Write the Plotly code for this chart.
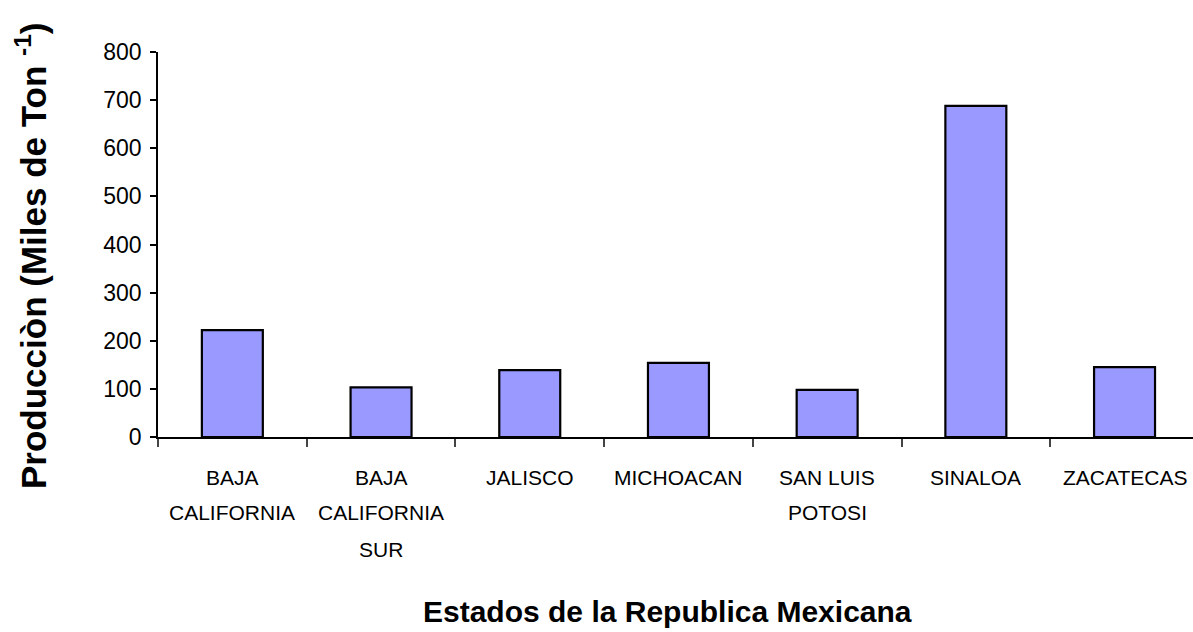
import plotly.graph_objects as go

categories = ["BAJA CALIFORNIA", "BAJA CALIFORNIA SUR", "JALISCO", "MICHOACAN",
              "SAN LUIS POTOSI", "SINALOA", "ZACATECAS"]
label_lines = [["BAJA", "CALIFORNIA"], ["BAJA", "CALIFORNIA", "SUR"], ["JALISCO"],
               ["MICHOACAN"], ["SAN LUIS", "POTOSI"], ["SINALOA"], ["ZACATECAS"]]
production = [222, 103, 139, 154, 98, 688, 145]
y_ticks = [0, 100, 200, 300, 400, 500, 600, 700, 800]

W, H = 1193, 632
L, T, B = 158, 52, 437
plot_h = B - T
font_main = "Liberation Sans, Arial, sans-serif"

fig = go.Figure()
fig.add_trace(go.Bar(
    x=categories, y=production,
    marker=dict(color="#9999FF", line=dict(color="black", width=2.2)),
    width=0.41,
))

annotations = []
line_centers = [477, 512, 549]
for cat, lines in zip(categories, label_lines):
    for i, ln in enumerate(lines):
        annotations.append(dict(
            x=cat, xref="x", y=(B - line_centers[i]) / plot_h, yref="paper",
            text=ln, showarrow=False, xanchor="center", yanchor="middle",
            font=dict(family=font_main, size=21, color="black"),
        ))

annotations.append(dict(
    x=(667 - L) / (W - L), xref="paper", y=(B - 611) / plot_h, yref="paper",
    text="<b>Estados de la Republica Mexicana</b>", showarrow=False,
    xanchor="center", yanchor="middle",
    font=dict(family=font_main, size=30, color="black"),
))
annotations.append(dict(
    x=(31 - L) / (W - L), xref="paper", y=(B - 256) / plot_h, yref="paper",
    text="<b>Producciòn (Miles de Ton <sup>-1</sup>)</b>", showarrow=False,
    textangle=-90, xanchor="center", yanchor="middle",
    font=dict(family=font_main, size=35, color="black"),
))

cat_w = 148.7
fig.update_layout(
    width=W, height=H,
    margin=dict(l=L, r=0, t=T, b=H - B, pad=0),
    paper_bgcolor="white", plot_bgcolor="white",
    showlegend=False,
    annotations=annotations,
    xaxis=dict(
        range=[-0.5, -0.5 + (W - L) / cat_w],
        showticklabels=False, tickson="boundaries", ticks="outside",
        ticklen=8, tickcolor="#444", tickwidth=1.5,
        showline=True, linecolor="black", linewidth=1.5,
        showgrid=False, zeroline=False,
    ),
    yaxis=dict(
        range=[0, 800], tickvals=y_ticks, ticks="outside", ticklen=6,
        tickcolor="black", tickwidth=1.5, ticklabelstandoff=4,
        showline=True, linecolor="black", linewidth=1.5,
        showgrid=False, zeroline=False,
        tickfont=dict(family=font_main, size=23, color="black"),
    ),
)

fig.write_html(
    "out.html",
    config={"displayModeBar": False},
    post_script="document.body.style.margin='0';document.body.style.overflow='hidden';",
)
